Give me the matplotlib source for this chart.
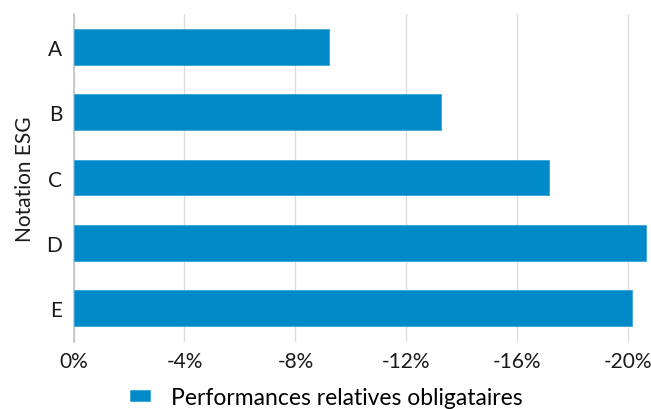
import matplotlib.pyplot as plt
from matplotlib.ticker import FuncFormatter

# data
categories = ['A', 'B', 'C', 'D', 'E']
values = [-9.2, -13.25, -17.15, -20.65, -20.15]
ticks = [0, -4, -8, -12, -16, -20]
series_name = 'Performances relatives obligataires'

plt.rcParams['font.family'] = ['Lato', 'DejaVu Sans']

fig = plt.figure(figsize=(6.51, 4.10), dpi=100)
ax = fig.add_axes([0.113, 0.163, 0.886, 0.800])

ax.barh(categories, values, height=0.55, color='#008ac9', edgecolor='#3aa3d6',
        linewidth=0.6, label=series_name, zorder=3)

ax.set_xlim(0, -20.8)
ax.set_ylim(4.52, -0.5)
ax.set_xticks(ticks)
ax.xaxis.set_major_formatter(FuncFormatter(lambda v, p: f'{v:.0f}%'))
ax.grid(axis='x', color='#dddddd', linewidth=1, zorder=0)
ax.tick_params(length=0, labelsize=15, colors='#1a1a1a')
ax.tick_params(axis='y', pad=8)
ax.tick_params(axis='x', pad=6)
for s in ['top', 'right', 'bottom']:
    ax.spines[s].set_visible(False)
ax.spines['left'].set_color('#c4c4c4')
ax.spines['left'].set_linewidth(1.2)
ax.set_ylabel('Notation ESG', fontsize=15, color='#1a1a1a', labelpad=8)

ax.legend(loc='upper center', bbox_to_anchor=(0.438, -0.108), frameon=False,
          fontsize=16.5, handlelength=0.9, handleheight=0.4, handletextpad=0.9,
          borderaxespad=0.2, borderpad=0.2)

plt.savefig('out.png')
